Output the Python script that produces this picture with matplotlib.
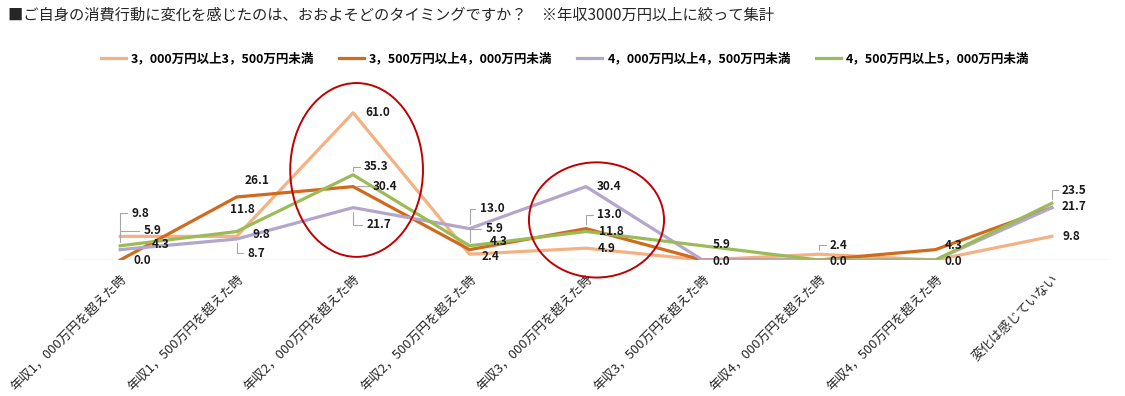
import matplotlib
matplotlib.use("Agg")
import matplotlib.pyplot as plt
from matplotlib.patches import Ellipse

plt.rcParams["font.family"] = ["Noto Sans CJK JP", "DejaVu Sans"]

title = "■ご自身の消費行動に変化を感じたのは、おおよそどのタイミングですか？　※年収3000万円以上に絞って集計"

categories = [
    "年収1，000万円を超えた時",
    "年収1，500万円を超えた時",
    "年収2，000万円を超えた時",
    "年収2，500万円を超えた時",
    "年収3，000万円を超えた時",
    "年収3，500万円を超えた時",
    "年収4，000万円を超えた時",
    "年収4，500万円を超えた時",
    "変化は感じていない",
]

series_names = [
    "3，000万円以上3，500万円未満",
    "3，500万円以上4，000万円未満",
    "4，000万円以上4，500万円未満",
    "4，500万円以上5，000万円未満",
]

band_3000 = [9.8, 9.8, 61.0, 2.4, 4.9, 0.0, 2.4, 0.0, 9.8]
band_3500 = [0.0, 26.1, 30.4, 4.3, 13.0, 0.0, 0.0, 4.3, 21.7]
band_4000 = [4.3, 8.7, 21.7, 13.0, 30.4, 0.0, 0.0, 0.0, 21.7]
band_4500 = [5.9, 11.8, 35.3, 5.9, 11.8, 5.9, 0.0, 0.0, 23.5]

colors = ["#F4B183", "#D06A1E", "#B3A6CC", "#9BBB59"]

# label offsets in pixels from each point: (dx, dy, leader)
# leader: "elbow" = excel style callout, "line" = straight, None = no line
label_pos = [
    [(11, 23, "elbow"), (16, 2, None), (12, 0, None), (12, -2, None), (12, 0, None),
     (10, -1, None), (11, 9, "elbow"), (9, -1, None), (11, 0, None)],
    [(13, 0, None), (8, 16, None), (20, 0, "line"), (20, 8, None), (11, 14, "elbow"),
     (10, -1, None), (11, -1, None), (9, 4, None), (10, 1, None)],
    [(32, 5, None), (11, -14, "elbow"), (13, -17, "elbow"), (10, 20, "elbow"), (11, 0, None),
     (10, -1, None), (11, -1, None), (9, -1, None), (10, 1, None)],
    [(23, 15, "elbow"), (-7, 22, None), (11, 8, "elbow"), (16, 17, "elbow"), (13, 0, None),
     (10, 1, None), (11, -1, None), (9, -1, None), (10, 13, "elbow")],
]

fig = plt.figure(figsize=(11.25, 3.96), dpi=100)
ax = fig.add_axes([0.0551, 0.3434, 0.9316, 0.4268])

x = list(range(len(categories)))
ax.axhline(0, color="#D9D9D9", lw=1, zorder=1)

all_series = [band_3000, band_3500, band_4000, band_4500]
for i, (vals, name, c) in enumerate(zip(all_series, series_names, colors)):
    ax.plot(x, vals, color=c, lw=2.3, label=name, zorder=2 + i, solid_joinstyle="round")

# identical labels sitting on the same spot are drawn only once (as in the original)
drawn = set()
for vals, offs in zip(all_series, label_pos):
    for xi, v, (dx, dy, leader) in zip(x, vals, offs):
        key = (xi, v, dx, dy)
        if key in drawn:
            continue
        drawn.add(key)
        kw = {}
        if leader == "elbow":
            kw["arrowprops"] = dict(arrowstyle="-", color="#A6A6A6", lw=0.8,
                                    connectionstyle="angle,angleA=0,angleB=90,rad=0",
                                    relpos=(0, 0.5), shrinkA=1, shrinkB=3)
        elif leader == "line":
            kw["arrowprops"] = dict(arrowstyle="-", color="#A6A6A6", lw=0.8,
                                    relpos=(0, 0.5), shrinkA=1, shrinkB=3)
        ax.annotate(f"{v:.1f}", (xi, v), xytext=(dx, dy), textcoords="offset pixels",
                    ha="left", va="center", fontsize=8.5, fontweight="bold",
                    color="#1A1A1A", zorder=10, **kw)

# red highlight circles
ax.add_patch(Ellipse((2.03, 37.3), 1.14, 72, fill=False, ec="#C00000", lw=1.4,
                     clip_on=False, zorder=12))
ax.add_patch(Ellipse((4.09, 16.6), 1.16, 47.7, fill=False, ec="#C00000", lw=1.4,
                     clip_on=False, zorder=12))

ax.set_xlim(-0.5, len(categories) - 0.5)
ax.set_ylim(0, 70)
ax.set_xticks(x)
ax.set_xticklabels(categories, rotation=45, ha="right", rotation_mode="anchor",
                   fontsize=9.3, color="#262626")
ax.tick_params(axis="x", length=0, pad=9)
ax.set_yticks([])
for s in ax.spines.values():
    s.set_visible(False)

fig.text(0.007, 0.962, title, fontsize=11, color="#262626", ha="left", va="center")

fig.legend(loc="center", bbox_to_anchor=(0.502, 0.851), ncol=4, frameon=False,
           prop={"size": 9, "weight": "bold"}, handlelength=2.0, handletextpad=0.4,
           columnspacing=2.0)

fig.savefig("out.png", dpi=100)
